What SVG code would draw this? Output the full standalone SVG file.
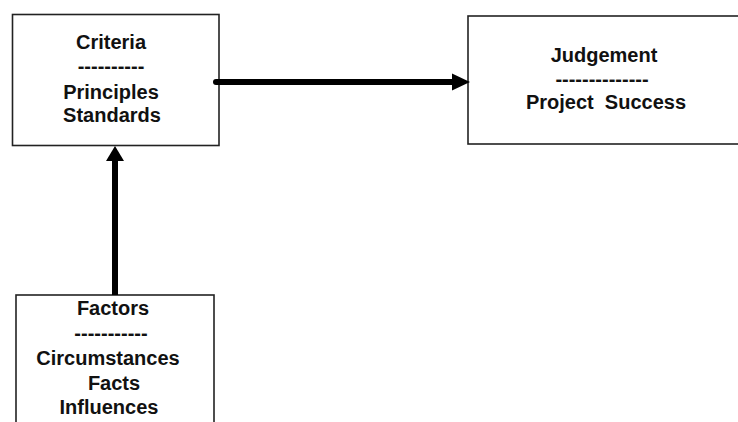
<svg xmlns="http://www.w3.org/2000/svg" width="738" height="422" viewBox="0 0 738 422">
<style>
.box{fill:#fff;stroke:#222;stroke-width:1.6}
.t{font-family:"Liberation Sans",Arial,sans-serif;font-weight:bold;font-size:20px;fill:#111;text-anchor:middle}
.c{stroke:#000;stroke-width:6;fill:none}
</style>
<defs>
<marker id="ah" markerUnits="userSpaceOnUse" viewBox="0 0 18 18" refX="17" refY="9" markerWidth="18" markerHeight="18" orient="auto">
<path d="M0,1 L17,9 L0,17 Z" fill="#000"/>
</marker>
</defs>
<rect width="738" height="422" fill="#fff"/>
<g id="criteria">
<rect class="box" x="12.5" y="14.5" width="206.5" height="131"/>
<text class="t" x="111" y="49">Criteria</text>
<text class="t" x="111" y="73">----------</text>
<text class="t" x="111" y="99">Principles</text>
<text class="t" x="112" y="122">Standards</text>
</g>
<g id="judgement">
<rect class="box" x="468" y="16" width="290" height="128"/>
<text class="t" x="604" y="62">Judgement</text>
<text class="t" x="602" y="86">--------------</text>
<text class="t" x="606" y="109" xml:space="preserve">Project  Success</text>
</g>
<g id="factors">
<rect class="box" x="16" y="295" width="198" height="150"/>
<text class="t" x="113" y="315">Factors</text>
<text class="t" x="111" y="340">-----------</text>
<text class="t" x="108" y="365">Circumstances</text>
<text class="t" x="114" y="390">Facts</text>
<text class="t" x="109" y="414">Influences</text>
</g>
<g id="connectors">
<line class="c" x1="216" y1="82" x2="455" y2="82" stroke-linecap="round"/>
<path d="M452,73.5 L470,82 L452,90.5 Z" fill="#000"/>
<line class="c" x1="115" y1="295" x2="115" y2="160"/>
<path d="M106,161 L115,146 L124,161 Z" fill="#000"/>
</g>
</svg>
